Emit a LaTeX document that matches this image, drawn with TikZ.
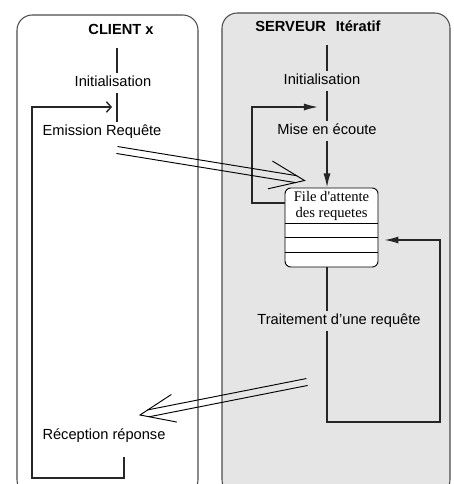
\documentclass[tikz,border=0pt]{standalone}
\usepackage{fontspec}
\setmainfont{Liberation Sans}
\newfontfamily\qfont{Liberation Serif}
\usetikzlibrary{arrows.meta, positioning, calc}

\begin{document}
\begin{tikzpicture}[x=0.03cm, y=-0.03cm, >={Latex[length=12pt, width=6pt]}]
        \tikzstyle{pnl} = [draw=black!70, line width=0.9pt, rounded corners=13pt]
        \tikzstyle{lbl} = [inner sep=3pt, text height=9pt, text depth=2.5pt, font=\fontsize{12.5}{14}\selectfont]
        \tikzstyle{ttl} = [lbl, font=\fontsize{12.5}{14}\selectfont\bfseries]
        \tikzstyle{flw} = [line width=1.2pt, draw=black!85]
        \tikzstyle{qbox} = [rectangle, rounded corners=5pt, draw=black, line width=0.8pt, fill=white, minimum width=2.79cm, minimum height=2.37cm]
        \tikzstyle{qlbl} = [align=center, inner sep=0pt, font=\qfont\fontsize{12.5}{13}\selectfont]
        \tikzstyle{dbl} = [line width=0.8pt]

        \useasboundingbox (0,0) rectangle (453,484);

        % Panels
        \draw [pnl] (17,15) rectangle (198,495);
        \draw [pnl, fill=gray!20] (222,13) rectangle (450,495);

        % Client
        \node (cltitle) [ttl] at (121,31) {CLIENT x};
        \node (clinit) [lbl] at (113,83) {Initialisation};
        \node (clemit) [lbl] at (102,132) {Emission Requête};
        \node (clrecv) [lbl] at (104,436) {Réception réponse};
        \coordinate (cltop) at (117,48); \coordinate (clloop) at (112,107); \coordinate (clret) at (124,457);

        \draw [flw] (cltop) -- (clinit.north -| cltop);
        \draw [flw] (clinit.south -| cltop) -- (clemit.north -| cltop);
        \draw [flw, -{Straight Barb[length=4pt, width=9pt]}] (clret) -- (124,478) -- (32,478) -- (32,107) -- (clloop);

        % Server
        \node (svtitle) [ttl] at (318,28) {SERVEUR\hspace{0.4em} Itératif};
        \node (svinit) [lbl] at (322,81) {Initialisation};
        \node (svlisten) [lbl] at (327,131) {Mise en écoute};
        \node (queue) [qbox] at (331.5,227.5) {};
        \node (qtext) [qlbl] at (331.5,206) {File d'attente\\des requetes};
        \foreach \y in {223,237,252} { \draw [line width=0.6pt] (queue.west |- 0,\y) -- (queue.east |- 0,\y); }
        \node (svproc) [lbl] at (339,321) {Traitement d'une requête};
        \coordinate (svtop) at (327,45); \coordinate (svloop) at (318,107);

        \draw [flw] (svtop) -- (svinit.north -| svtop);
        \draw [flw] (svinit.south -| svtop) -- (svlisten.north -| svtop);
        \draw [flw, ->] (svlisten.south -| svtop) -- (queue.north -| svtop);
        \draw [flw, ->] (queue.west |- 0,203) -- (252,203) -- (252,107) -- (svloop);
        \draw [flw] (queue.south -| svtop) -- (svproc.north -| svtop);
        \draw [flw, ->, shorten >=5pt] (svproc.south -| svtop) -- (327,422) -- (440,422) -- (440,240) -- (queue.east |- 0,240);

        % Request and reply
        \coordinate (reqout) at (117,150); \coordinate (reqin) at ($(queue.north west)+(20,-7)$);
        \coordinate (repout) at (307,382); \coordinate (repin) at (140,415);
        \foreach \s/\t in {reqout/reqin, repout/repin} {
            \coordinate (hd) at ($(\t)!7pt!(\s)$);
            \draw [dbl] ($(\s)!3pt!90:(\t)$) -- ($(hd)!3pt!-90:(\s)$);
            \draw [dbl] ($(\s)!3pt!-90:(\t)$) -- ($(hd)!3pt!90:(\s)$);
            \draw [dbl] ($(\t)!32pt!22:(\s)$) -- (\t) -- ($(\t)!32pt!-22:(\s)$);
        }
\end{tikzpicture}
\end{document}
